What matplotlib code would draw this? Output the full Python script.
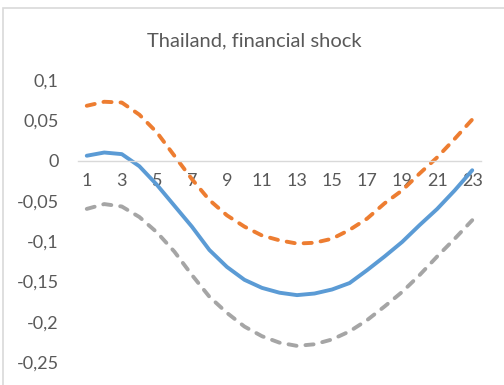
import matplotlib.pyplot as plt
from matplotlib.patches import Rectangle

# periods and impulse responses
periods = list(range(1, 24))
median = [0.006, 0.010, 0.008, -0.007, -0.030, -0.056, -0.082, -0.111, -0.132, -0.148,
          -0.158, -0.164, -0.167, -0.165, -0.160, -0.152, -0.136, -0.119, -0.101, -0.080,
          -0.060, -0.037, -0.012]
upper = [0.068, 0.073, 0.072, 0.057, 0.035, 0.006, -0.023, -0.049, -0.068, -0.082,
         -0.093, -0.099, -0.103, -0.102, -0.097, -0.086, -0.072, -0.053, -0.037, -0.016,
         0.004, 0.027, 0.051]
lower = [-0.060, -0.054, -0.057, -0.070, -0.089, -0.113, -0.142, -0.169, -0.189, -0.206,
         -0.218, -0.226, -0.230, -0.228, -0.222, -0.212, -0.198, -0.181, -0.163, -0.142,
         -0.119, -0.097, -0.074]
yticks = [0.1, 0.05, 0, -0.05, -0.1, -0.15, -0.2, -0.25]
ytick_labels = ['0,1', '0,05', '0', '-0,05', '-0,1', '-0,15', '-0,2', '-0,25']
xticks = list(range(1, 24, 2))

plt.rcParams['font.family'] = ['Lato', 'DejaVu Sans']
tekst = '#595959'

fig = plt.figure(figsize=(5.04, 3.85), dpi=100)
fig.patches.append(Rectangle((3 / 504, -0.05), 1.1, 377 / 385 + 0.05, transform=fig.transFigure,
                             fill=False, edgecolor='#D9D9D9', linewidth=1.2))
ax = fig.add_axes([78 / 504, 23 / 385, 403 / 504, 282 / 385])

strek = (0, (2.1, 2.3))
ax.plot(periods, median, color='#5B9BD5', linewidth=2.8, solid_capstyle='round')
ax.plot(periods, upper, color='#ED7D31', linewidth=2.8, linestyle=strek, dash_capstyle='round')
ax.plot(periods, lower, color='#A5A5A5', linewidth=2.8, linestyle=strek, dash_capstyle='round')

ax.set_xlim(0.5, 23.5)
ax.set_ylim(-0.25, 0.1)
ax.set_xticks(xticks)
ax.set_xticklabels([str(x) for x in xticks])
ax.set_yticks(yticks)
ax.set_yticklabels(ytick_labels)

for side in ['top', 'right', 'left']:
    ax.spines[side].set_visible(False)
ax.spines['bottom'].set_position(('data', 0))
ax.spines['bottom'].set_color('#D9D9D9')
ax.spines['bottom'].set_linewidth(1.0)
ax.tick_params(axis='both', length=0, labelsize=13, colors=tekst)
ax.tick_params(axis='x', pad=9)
ax.tick_params(axis='y', pad=14)

fig.text(254 / 504, 1 - 41 / 385, 'Thailand, financial shock', ha='center', va='center',
         fontsize=14.5, color=tekst)

plt.savefig('out.png', dpi=100)
